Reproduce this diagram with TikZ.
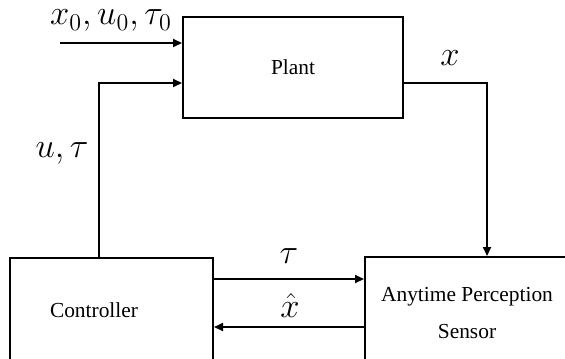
\documentclass[tikz,border=0pt]{standalone}
\usepackage{fontspec}
\setmainfont{Liberation Serif}
\usetikzlibrary{arrows.meta}
\begin{document}
\begin{tikzpicture}[x=0.5pt,y=-0.5pt,
  blk/.style={draw,line width=1pt,rectangle,inner sep=0pt,font=\fontsize{10.7}{18.5}\selectfont},
  txt/.style={inner sep=0pt,font=\fontsize{10.7}{18.5}\selectfont},
  lbl/.style={inner sep=0pt,anchor=base,font=\LARGE},
  conn/.style={line width=1pt},
  arr/.style={conn,-{Triangle[length=4.5pt,width=4pt]}}]
\path[use as bounding box,clip] (0,0) rectangle (565,358);
\node[blk,minimum width=110pt,minimum height=50.5pt] (plant) at (293,67.5) {Plant};
\node[blk,minimum width=101.5pt,minimum height=56pt] (ctrl) at (111.5,314) {};
\node[txt] (ctrltxt) at (94,310) {Controller};
\node[blk,minimum width=102pt,minimum height=56pt,align=center] (sens) at (467,313) {Anytime Perception\\Sensor};
\coordinate (in0) at (60,43);
\coordinate (c1) at (99,83);
\coordinate (o1) at (487,83);
\coordinate (t1) at (290,279);
\coordinate (h1) at (290,327);
\draw[arr] (in0) -- (in0 -| plant.west);
\draw[arr] (c1 |- ctrl.north) -- (c1) -- (c1 -| plant.west);
\draw[arr] (o1 -| plant.east) -- (o1) -- (o1 |- sens.north);
\draw[arr] (t1 -| ctrl.east) -- (t1 -| sens.west);
\draw[arr] (h1 -| sens.west) -- (h1 -| ctrl.east);
\node[lbl] (l0) at (111,25) {$x_0, u_0, \tau_0$};
\node[lbl] (lu) at (62,157) {$u, \tau$};
\node[lbl] (lx) at (450,66) {$x$};
\node[lbl] (lt) at (289,263) {$\tau$};
\node[lbl] (lh) at (290,317) {$\hat{x}$};
\end{tikzpicture}
\end{document}
